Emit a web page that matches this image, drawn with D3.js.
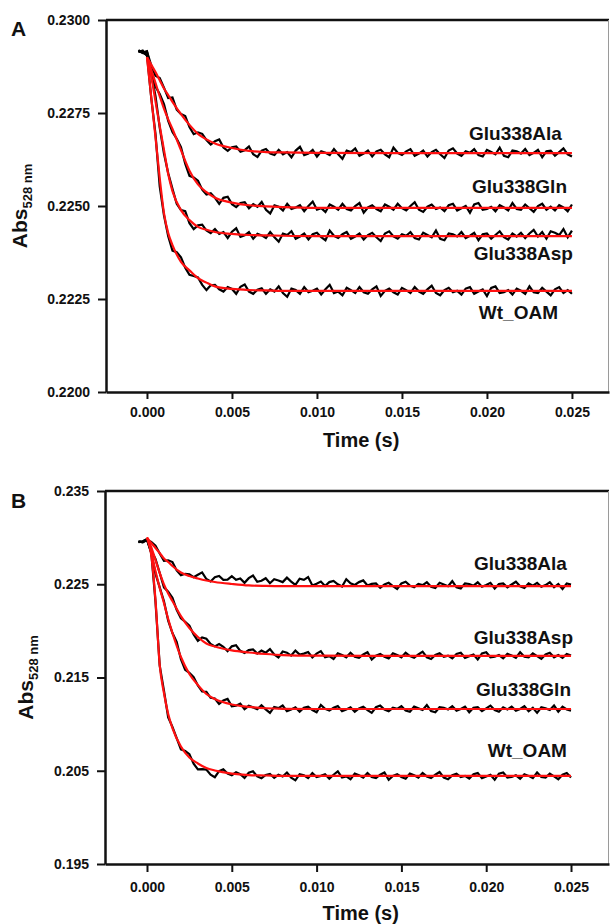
<!DOCTYPE html>
<html>
<head>
<meta charset="utf-8">
<script src="https://d3js.org/d3.v7.min.js"></script>
<style>
  body { margin: 0; background: #fff; }
  svg text { font-family: "Liberation Sans", Arial, sans-serif; font-weight: bold; fill: #111; }
  .tick text { font-size: 14px; }
</style>
</head>
<body>
<div id="chart"></div>
<script>
// sampling times of the stopped-flow traces (ms)
const timeMs = [-0.5,-0.25,0,0.25,0.5,0.75,1,1.25,1.5,1.75,2,2.25,2.5,2.75,3,3.25,3.5,3.75,4,4.25,4.5,4.75,5,5.25,5.5,5.75,6,6.25,6.5,6.75,7,7.25,7.5,7.75,8,8.25,8.5,8.75,9,9.25,9.5,9.75,10,10.25,10.5,10.75,11,11.25,11.5,11.75,12,12.25,12.5,12.75,13,13.25,13.5,13.75,14,14.25,14.5,14.75,15,15.25,15.5,15.75,16,16.25,16.5,16.75,17,17.25,17.5,17.75,18,18.25,18.5,18.75,19,19.25,19.5,19.75,20,20.25,20.5,20.75,21,21.25,21.5,21.75,22,22.25,22.5,22.75,23,23.25,23.5,23.75,24,24.25,24.5,24.75,25];
// time points of the fitted curves (ms)
const fitTimeMs = [0,0.25,0.5,0.75,1,1.25,1.5,2,2.5,3,3.5,4,5,6,7,8,10,15,20,25];

const xTicks = [0, 0.005, 0.010, 0.015, 0.020, 0.025];
const yTicksA = [0.2200, 0.2225, 0.2250, 0.2275, 0.2300];
const yTicksB = [0.195, 0.205, 0.215, 0.225, 0.235];

// ---- panel A : raw traces (Abs 528 nm)
const traceA_Ala = [0.22917,0.22913,0.22915,0.22878,0.22850,0.22844,0.22818,0.22790,0.22792,0.22759,0.22747,0.22742,0.22712,0.22693,0.22698,0.22694,0.22677,0.22665,0.22674,0.22679,0.22657,0.22648,0.22658,0.22660,0.22646,0.22650,0.22660,0.22639,0.22632,0.22649,
  0.22653,0.22641,0.22637,0.22651,0.22639,0.22645,0.22631,0.22649,0.22659,0.22637,
  0.22641,0.22651,0.22633,0.22647,0.22643,0.22637,0.22653,0.22639,0.22627,0.22649,
  0.22645,0.22655,0.22635,0.22641,0.22649,0.22633,0.22647,0.22651,0.22639,0.22631,
  0.22657,0.22643,0.22637,0.22647,0.22653,0.22635,0.22641,0.22649,0.22633,0.22645,
  0.22651,0.22639,0.22629,0.22649,0.22655,0.22641,0.22635,0.22647,0.22643,0.22653,
  0.22637,0.22633,0.22651,0.22645,0.22639,0.22657,0.22635,0.22631,0.22649,0.22647,
  0.22641,0.22653,0.22637,0.22643,0.22651,0.22631,0.22647,0.22649,0.22635,0.22645,
  0.22655,0.22639,0.22633];
const traceA_Gln = [0.22919,0.22911,0.22916,0.22866,0.22821,0.22801,0.22774,0.22729,0.22699,0.22681,0.22658,0.22614,0.22581,0.22577,0.22568,0.22544,0.22531,0.22534,0.22522,0.22506,0.22522,0.22525,0.22505,0.22497,0.22508,0.22510,0.22494,0.22505,0.22498,0.22511,
  0.22490,0.22480,0.22502,0.22498,0.22488,0.22506,0.22492,0.22496,0.22502,0.22486,
  0.22500,0.22512,0.22490,0.22494,0.22484,0.22504,0.22498,0.22490,0.22506,0.22492,
  0.22488,0.22500,0.22508,0.22482,0.22496,0.22502,0.22492,0.22486,0.22504,0.22498,
  0.22490,0.22506,0.22494,0.22488,0.22500,0.22510,0.22490,0.22484,0.22498,0.22504,
  0.22492,0.22496,0.22486,0.22502,0.22506,0.22488,0.22494,0.22500,0.22482,0.22504,
  0.22508,0.22490,0.22492,0.22498,0.22486,0.22502,0.22496,0.22488,0.22508,0.22492,
  0.22490,0.22504,0.22494,0.22484,0.22500,0.22506,0.22490,0.22498,0.22488,0.22502,
  0.22496,0.22486,0.22504];
const traceA_Asp = [0.22914,0.22918,0.22904,0.22855,0.22796,0.22711,0.22641,0.22588,0.22546,0.22506,0.22489,0.22486,0.22454,0.22438,0.22448,0.22450,0.22434,0.22427,0.22438,0.22425,0.22430,0.22414,0.22431,0.22440,0.22417,0.22421,0.22430,0.22412,0.22425,0.22421,
  0.22414,0.22430,0.22416,0.22404,0.22426,0.22422,0.22432,0.22412,0.22418,0.22426,
  0.22410,0.22424,0.22428,0.22416,0.22408,0.22434,0.22420,0.22414,0.22424,0.22430,
  0.22412,0.22418,0.22426,0.22410,0.22422,0.22428,0.22416,0.22406,0.22426,0.22432,
  0.22418,0.22412,0.22424,0.22420,0.22430,0.22414,0.22410,0.22428,0.22422,0.22416,
  0.22434,0.22412,0.22408,0.22426,0.22424,0.22418,0.22430,0.22414,0.22420,0.22428,
  0.22408,0.22424,0.22426,0.22412,0.22422,0.22432,0.22416,0.22410,0.22426,0.22418,
  0.22428,0.22414,0.22426,0.22436,0.22418,0.22430,0.22412,0.22432,0.22428,0.22422,
  0.22438,0.22416,0.22434];
const traceA_Wt = [0.22916,0.22912,0.22906,0.22791,0.22694,0.22553,0.22475,0.22419,0.22380,0.22376,0.22362,0.22334,0.22315,0.22312,0.22308,0.22288,0.22274,0.22287,0.22288,0.22276,0.22270,0.22282,0.22277,0.22264,0.22283,0.22289,0.22270,0.22264,0.22275,0.22279,
  0.22264,0.22276,0.22270,0.22284,0.22266,0.22256,0.22278,0.22274,0.22264,0.22282,
  0.22268,0.22272,0.22278,0.22262,0.22276,0.22288,0.22266,0.22270,0.22260,0.22280,
  0.22274,0.22266,0.22282,0.22268,0.22264,0.22276,0.22284,0.22258,0.22272,0.22278,
  0.22268,0.22262,0.22280,0.22274,0.22266,0.22282,0.22270,0.22264,0.22276,0.22286,
  0.22266,0.22260,0.22274,0.22280,0.22268,0.22272,0.22262,0.22278,0.22282,0.22264,
  0.22270,0.22276,0.22258,0.22280,0.22284,0.22266,0.22268,0.22274,0.22262,0.22278,
  0.22272,0.22264,0.22284,0.22268,0.22266,0.22280,0.22270,0.22260,0.22276,0.22282,
  0.22266,0.22274,0.22264];

// ---- panel A : fitted curves
const fitA_Ala = [0.22900,0.22880,0.22860,0.22838,0.22816,0.22798,0.22780,0.22747,0.22718,0.22694,0.22679,0.22668,0.22656,0.22648,0.22645,0.22644,0.22643,0.22642,0.22642,0.22642];
const fitA_Gln = [0.22900,0.22866,0.22831,0.22795,0.22762,0.22733,0.22707,0.22650,0.22595,0.22558,0.22537,0.22522,0.22509,0.22502,0.22499,0.22497,0.22495,0.22495,0.22495,0.22495];
const fitA_Asp = [0.22900,0.22849,0.22782,0.22715,0.22651,0.22586,0.22540,0.22489,0.22462,0.22444,0.22436,0.22430,0.22425,0.22422,0.22421,0.22420,0.22419,0.22419,0.22419,0.22419];
const fitA_Wt = [0.22900,0.22793,0.22686,0.22575,0.22481,0.22427,0.22395,0.22350,0.22327,0.22306,0.22294,0.22284,0.22277,0.22274,0.22273,0.22272,0.22272,0.22272,0.22272,0.22272];

// ---- panel B : raw traces
const traceB_Ala = [0.22958,0.22950,0.22975,0.22954,0.22913,0.22829,0.22752,0.22757,0.22738,0.22648,0.22596,0.22612,0.22606,0.22576,0.22602,0.22627,0.22556,0.22530,0.22576,0.22588,0.22547,0.22550,0.22587,0.22547,0.22561,0.22515,0.22565,0.22594,0.22526,0.22537,
  0.22565,0.22511,0.22553,0.22541,0.22523,0.22571,0.22529,0.22493,0.22559,0.22547,0.22577,
  0.22487,0.22505,0.22529,0.22481,0.22523,0.22535,0.22499,0.22475,0.22553,0.22511,0.22493,0.22523,0.22541,0.22487,0.22505,
  0.22509,0.22461,0.22497,0.22515,0.22479,0.22449,0.22509,0.22527,0.22485,0.22467,
  0.22503,0.22491,0.22521,0.22473,0.22461,0.22515,0.22497,0.22479,0.22533,0.22467,
  0.22455,0.22509,0.22503,0.22485,0.22521,0.22473,0.22491,0.22515,0.22455,0.22503,
  0.22509,0.22467,0.22497,0.22527,0.22479,0.22461,0.22509,0.22485,0.22515,0.22473,
  0.22491,0.22521,0.22467,0.22503,0.22449,0.22509,0.22497];
const traceB_Asp = [0.22955,0.22961,0.22985,0.22863,0.22772,0.22621,0.22467,0.22419,0.22356,0.22226,0.22135,0.22098,0.22055,0.21962,0.21892,0.21929,0.21915,0.21861,0.21834,0.21858,0.21829,0.21783,0.21834,0.21846,0.21786,0.21763,0.21794,0.21802,0.21756,0.21788,
  0.21766,0.21805,0.21748,0.21716,0.21779,0.21766,0.21735,0.21788,0.21745,0.21756,0.21773,0.21715,0.21756,
  0.21783,0.21717,0.21729,0.21699,0.21759,0.21741,0.21717,0.21765,0.21723,0.21711,
  0.21747,0.21771,0.21693,0.21735,0.21753,0.21723,0.21705,0.21759,0.21741,0.21717,
  0.21765,0.21729,0.21711,0.21747,0.21777,0.21717,0.21699,0.21741,0.21759,0.21723,
  0.21735,0.21705,0.21753,0.21765,0.21711,0.21729,0.21747,0.21693,0.21759,0.21771,
  0.21717,0.21723,0.21741,0.21705,0.21753,0.21735,0.21711,0.21771,0.21723,0.21717,
  0.21759,0.21729,0.21699,0.21747,0.21765,0.21717,0.21741,0.21711,0.21753,0.21735];
const traceB_Gln = [0.22952,0.22958,0.22982,0.22834,0.22612,0.22466,0.22317,0.22109,0.21977,0.21881,0.21696,0.21583,0.21550,0.21505,0.21414,0.21350,0.21347,0.21282,0.21275,0.21216,0.21255,0.21271,0.21192,0.21197,0.21220,0.21160,0.21196,0.21180,0.21159,0.21203,
  0.21158,0.21120,0.21184,0.21171,
  0.21199,0.21139,0.21157,0.21181,0.21133,0.21175,0.21187,0.21151,0.21127,0.21205,
  0.21163,0.21145,0.21175,0.21193,0.21139,0.21157,0.21181,0.21133,0.21169,0.21187,
  0.21151,0.21121,0.21181,0.21199,0.21157,0.21139,0.21175,0.21163,0.21193,0.21145,
  0.21133,0.21187,0.21169,0.21151,0.21205,0.21139,0.21127,0.21181,0.21175,0.21157,
  0.21193,0.21145,0.21163,0.21187,0.21127,0.21175,0.21181,0.21139,0.21169,0.21199,
  0.21151,0.21133,0.21181,0.21157,0.21187,0.21145,0.21163,0.21193,0.21139,0.21175,
  0.21121,0.21181,0.21169,0.21151,0.21199,0.21133,0.21187,0.21157,0.21145];
const traceB_Wt = [0.22958,0.22952,0.22976,0.22844,0.22313,0.21628,0.21358,0.21073,0.20970,0.20850,0.20730,0.20713,0.20678,0.20575,0.20514,0.20518,0.20513,0.20457,0.20431,0.20495,0.20515,0.20471,0.20452,0.20484,0.20462,0.20422,0.20478,0.20494,0.20439,0.20420,
  0.20455,0.20466,0.20423,0.20458,
  0.20439,0.20481,0.20427,0.20397,0.20463,0.20451,0.20421,0.20475,0.20433,0.20445,
  0.20463,0.20415,0.20457,0.20493,0.20427,0.20439,0.20409,0.20469,0.20451,0.20427,
  0.20475,0.20433,0.20421,0.20457,0.20481,0.20403,0.20445,0.20463,0.20433,0.20415,
  0.20469,0.20451,0.20427,0.20475,0.20439,0.20421,0.20457,0.20487,0.20427,0.20409,
  0.20451,0.20469,0.20433,0.20445,0.20415,0.20463,0.20475,0.20421,0.20439,0.20457,
  0.20403,0.20469,0.20481,0.20427,0.20433,0.20451,0.20415,0.20463,0.20445,0.20421,
  0.20481,0.20433,0.20427,0.20469,0.20439,0.20409,0.20457,0.20475,0.20427];

// ---- panel B : fitted curves
const fitB_Ala = [0.23000,0.22942,0.22889,0.22835,0.22776,0.22739,0.22696,0.22626,0.22588,0.22562,0.22540,0.22524,0.22503,0.22487,0.22482,0.22480,0.22480,0.22480,0.22480,0.22480];
const fitB_Asp = [0.23000,0.22899,0.22760,0.22621,0.22497,0.22401,0.22320,0.22159,0.22031,0.21934,0.21865,0.21832,0.21790,0.21768,0.21752,0.21741,0.21734,0.21731,0.21731,0.21731];
const fitB_Gln = [0.23000,0.22846,0.22642,0.22460,0.22299,0.22127,0.21977,0.21720,0.21538,0.21420,0.21323,0.21269,0.21210,0.21184,0.21170,0.21164,0.21162,0.21162,0.21162,0.21162];
const fitB_Wt = [0.23000,0.22814,0.22331,0.21634,0.21334,0.21109,0.20958,0.20760,0.20642,0.20578,0.20529,0.20503,0.20470,0.20454,0.20449,0.20444,0.20444,0.20444,0.20444,0.20444];

const svg = d3.select("#chart").append("svg")
    .attr("width", 610)
    .attr("height", 924);

function drawPanel(p) {
    const x = d3.scaleLinear().domain(p.xDomain).range([p.left, p.right]);
    const y = d3.scaleLinear().domain(p.yDomain).range([p.bottom, p.top]);
    const g = svg.append("g");

    // top (thick) and right (thin) frame lines
    g.append("line")
        .attr("x1", p.left).attr("x2", p.right)
        .attr("y1", p.top).attr("y2", p.top)
        .attr("stroke", "#111").attr("stroke-width", 2.5);
    g.append("line")
        .attr("x1", p.right - 0.5).attr("x2", p.right - 0.5)
        .attr("y1", p.top).attr("y2", p.bottom)
        .attr("stroke", "#9a9a9a").attr("stroke-width", 1);

    // X axis
    g.append("g")
        .attr("transform", `translate(0,${p.bottom})`)
        .call(d3.axisBottom(x)
            .tickValues(xTicks)
            .tickFormat(d3.format(".3f"))
            .tickSize(p.xTickLen)
            .tickPadding(p.xPad)
            .tickSizeOuter(0));

    // Y axis
    g.append("g")
        .attr("transform", `translate(${p.left},0)`)
        .call(d3.axisLeft(y)
            .tickValues(p.yTicks)
            .tickFormat(d3.format(p.yFmt))
            .tickSize(8)
            .tickPadding(8)
            .tickSizeOuter(0));

    g.selectAll(".domain").attr("stroke", "#111").attr("stroke-width", 2.5);
    g.selectAll(".tick line").attr("stroke", "#111").attr("stroke-width", 2);

    // raw traces
    const rawLine = d3.line()
        .x((v, i) => x(timeMs[i] / 1000))
        .y(v => y(v));
    p.traces.forEach(tr => {
        g.append("path")
            .datum(tr)
            .attr("fill", "none")
            .attr("stroke", "#000")
            .attr("stroke-width", 2.2)
            .attr("stroke-linejoin", "miter")
            .attr("d", rawLine);
    });

    // fits
    const fitLine = d3.line()
        .x((v, i) => x(fitTimeMs[i] / 1000))
        .y(v => y(v))
        .curve(d3.curveMonotoneX);
    p.fits.forEach(f => {
        g.append("path")
            .datum(f)
            .attr("fill", "none")
            .attr("stroke", "#ff1010")
            .attr("stroke-width", 2.2)
            .attr("d", fitLine);
    });

    // series labels
    p.labels.forEach(l => {
        g.append("text")
            .attr("x", x(l.t))
            .attr("y", y(l.v))
            .attr("text-anchor", "end")
            .style("font-size", "19px")
            .text(l.name);
    });

    // panel letter
    g.append("text")
        .attr("x", 11).attr("y", p.letterY)
        .style("font-size", "21px")
        .text(p.letter);

    // axis titles
    g.append("text")
        .attr("x", x(0.0126))
        .attr("y", p.xTitleY)
        .attr("text-anchor", "middle")
        .style("font-size", "20px")
        .text("Time (s)");

    const yt = g.append("text")
        .attr("transform", `translate(${p.yTitleX},${(p.top + p.bottom) / 2}) rotate(-90)`)
        .attr("text-anchor", "middle")
        .style("font-size", "21px");
    yt.append("tspan").text("Abs");
    yt.append("tspan").attr("dy", 5).style("font-size", "13px").text("528 nm");
}

drawPanel({
    letter: "A", letterY: 36,
    left: 106, right: 609, top: 20, bottom: 392,
    xDomain: [-0.00241, 0.02718], yDomain: [0.2200, 0.2300],
    yTicks: yTicksA, yFmt: ".4f",
    xTickLen: 7, xPad: 8, xTitleY: 447, yTitleX: 27,
    traces: [traceA_Ala, traceA_Gln, traceA_Asp, traceA_Wt],
    fits: [fitA_Ala, fitA_Gln, fitA_Asp, fitA_Wt],
    labels: [
        { name: "Glu338Ala", t: 0.02441, v: 0.22677 },
        { name: "Glu338Gln", t: 0.02471, v: 0.22535 },
        { name: "Glu338Asp", t: 0.02506, v: 0.22354 },
        { name: "Wt_OAM", t: 0.02418, v: 0.22196 }
    ]
});

drawPanel({
    letter: "B", letterY: 508,
    left: 105, right: 609, top: 491, bottom: 864,
    xDomain: [-0.002476, 0.02724], yDomain: [0.195, 0.235],
    yTicks: yTicksB, yFmt: ".3f",
    xTickLen: 8, xPad: 10, xTitleY: 920, yTitleX: 33,
    traces: [traceB_Ala, traceB_Asp, traceB_Gln, traceB_Wt],
    fits: [fitB_Ala, fitB_Asp, fitB_Gln, fitB_Wt],
    labels: [
        { name: "Glu338Ala", t: 0.02476, v: 0.22653 },
        { name: "Glu338Asp", t: 0.02512, v: 0.21859 },
        { name: "Glu338Gln", t: 0.02500, v: 0.21302 },
        { name: "Wt_OAM", t: 0.02476, v: 0.20647 }
    ]
});
</script>
</body>
</html>
